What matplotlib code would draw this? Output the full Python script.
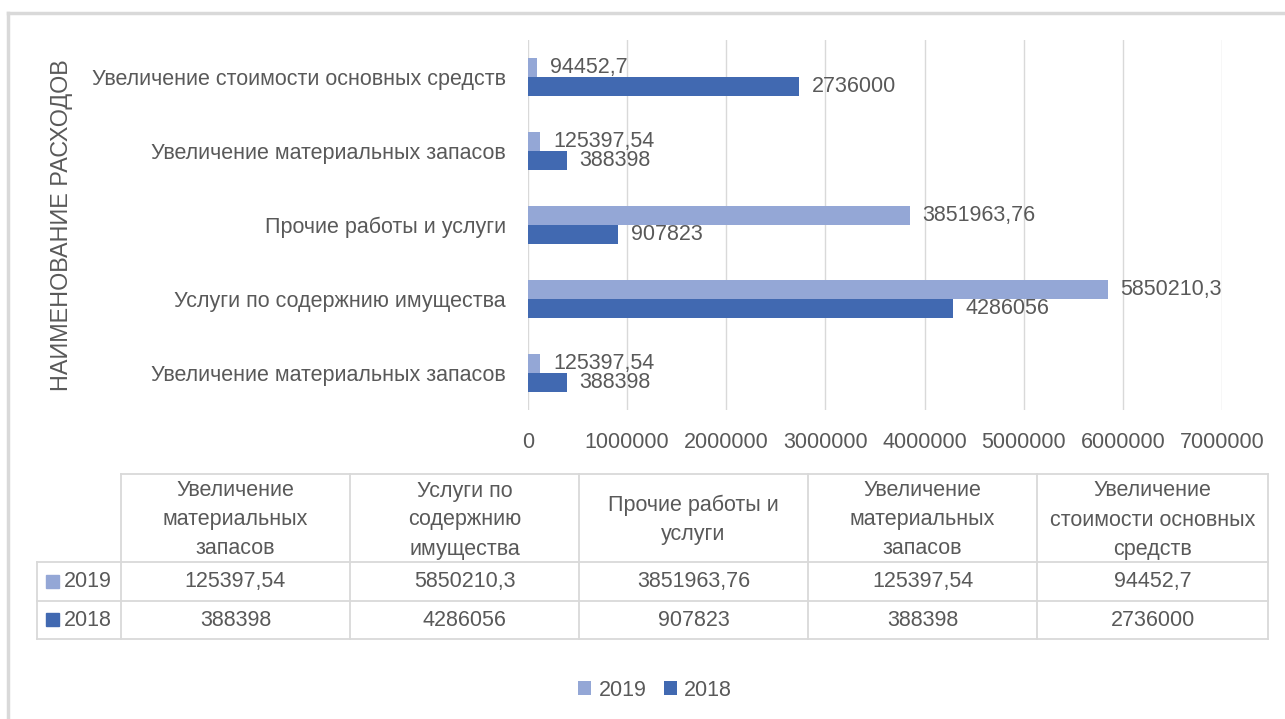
import matplotlib
matplotlib.use("Agg")
import matplotlib.pyplot as plt
from matplotlib.lines import Line2D
from matplotlib.patches import Rectangle
import numpy as np

plt.rcParams['font.family'] = ['Liberation Sans', 'DejaVu Sans']

# categories in chart order (bottom -> top), same as data table order (left -> right)
categories = [
    'Увеличение материальных запасов',
    'Услуги по содержнию имущества',
    'Прочие работы и услуги',
    'Увеличение материальных запасов',
    'Увеличение стоимости основных средств',
]
table_headers = [
    'Увеличение\nматериальных\nзапасов',
    'Услуги по\nсодержнию\nимущества',
    'Прочие работы и\nуслуги',
    'Увеличение\nматериальных\nзапасов',
    'Увеличение\nстоимости основных\nсредств',
]
values_2019 = [125397.54, 5850210.3, 3851963.76, 125397.54, 94452.7]
values_2018 = [388398, 4286056, 907823, 388398, 2736000]
series_names = ['2019', '2018']
x_ticks = [0, 1000000, 2000000, 3000000, 4000000, 5000000, 6000000, 7000000]
y_title = 'НАИМЕНОВАНИЕ РАСХОДОВ'

c2019 = '#94A7D6'
c2018 = '#4169B1'
txt = '#595959'
grid_c = '#D9D9D9'
fs = 15.5

W, H = 1285, 719


def fmt(v):
    s = ('%.2f' % v).rstrip('0').rstrip('.')
    return s.replace('.', ',')


def px(x, y):
    return x / W, 1 - y / H


fig = plt.figure(figsize=(W / 100, H / 100), dpi=100)

# outer frame (top and left edges visible)
fig.add_artist(Line2D([8 / W, 1.0], [1 - 13 / H] * 2, color=grid_c, lw=2.5))
fig.add_artist(Line2D([8 / W] * 2, [1 - 13 / H, 0], color=grid_c, lw=2.5))

# bar chart
ax = fig.add_axes([528 / W, 1 - 410 / H, (1222 - 528) / W, 370 / H])
y = np.arange(len(categories))
h = 0.26
b19 = ax.barh(y + h / 2, values_2019, height=h, color=c2019, label=series_names[0])
b18 = ax.barh(y - h / 2, values_2018, height=h, color=c2018, label=series_names[1])
ax.bar_label(b19, labels=[fmt(v) for v in values_2019], padding=9, color=txt, fontsize=fs)
ax.bar_label(b18, labels=[fmt(v) for v in values_2018], padding=9, color=txt, fontsize=fs)

ax.set_xlim(0, 7000000)
ax.set_ylim(-0.5, len(categories) - 0.5)
ax.set_xticks(x_ticks)
ax.set_xticklabels([str(t) for t in x_ticks])
ax.set_yticks(y)
ax.set_yticklabels(categories)
ax.tick_params(axis='both', length=0, colors=txt, labelsize=fs)
ax.tick_params(axis='x', pad=16)
ax.tick_params(axis='y', pad=16)
for s in ax.spines.values():
    s.set_visible(False)
ax.grid(axis='x', color=grid_c, lw=1)
ax.set_axisbelow(True)

fig.text(*px(62, 225), y_title, rotation=90, ha='center', va='center', color=txt, fontsize=16.8)

# data table
col_x = [121, 350, 579, 808, 1037, 1268]
row_y = [474, 562, 601, 639]
left_x = 37
lw_t = 1.3
fig.add_artist(Line2D([col_x[0] / W, col_x[-1] / W], [1 - row_y[0] / H] * 2, color=grid_c, lw=lw_t))
for ry in row_y[1:]:
    fig.add_artist(Line2D([left_x / W, col_x[-1] / W], [1 - ry / H] * 2, color=grid_c, lw=lw_t))
for cx in col_x:
    fig.add_artist(Line2D([cx / W] * 2, [1 - row_y[0] / H, 1 - row_y[-1] / H], color=grid_c, lw=lw_t))
fig.add_artist(Line2D([left_x / W] * 2, [1 - row_y[1] / H, 1 - row_y[-1] / H], color=grid_c, lw=lw_t))

for i, head in enumerate(table_headers):
    cx = (col_x[i] + col_x[i + 1]) / 2
    fig.text(*px(cx, (row_y[0] + row_y[1]) / 2 + 2), head, ha='center', va='center',
             color=txt, fontsize=fs, linespacing=1.5)

for r, (name, vals, col) in enumerate([(series_names[0], values_2019, c2019),
                                        (series_names[1], values_2018, c2018)]):
    cy = (row_y[r + 1] + row_y[r + 2]) / 2
    fig.add_artist(Rectangle(px(46, cy + 6), 13 / W, 13 / H, color=col))
    fig.text(*px(64, cy), name, ha='left', va='center', color=txt, fontsize=fs)
    for i, v in enumerate(vals):
        cx = (col_x[i] + col_x[i + 1]) / 2
        fig.text(*px(cx, cy), fmt(v), ha='center', va='center', color=txt, fontsize=fs)

fig.legend(handles=[b19, b18], labels=series_names, loc='center',
           bbox_to_anchor=px(655, 690), ncol=2, frameon=False, fontsize=fs,
           labelcolor=txt, handlelength=0.6, handleheight=0.6, handletextpad=0.35,
           columnspacing=0.8)

fig.savefig('out.png', dpi=100)
